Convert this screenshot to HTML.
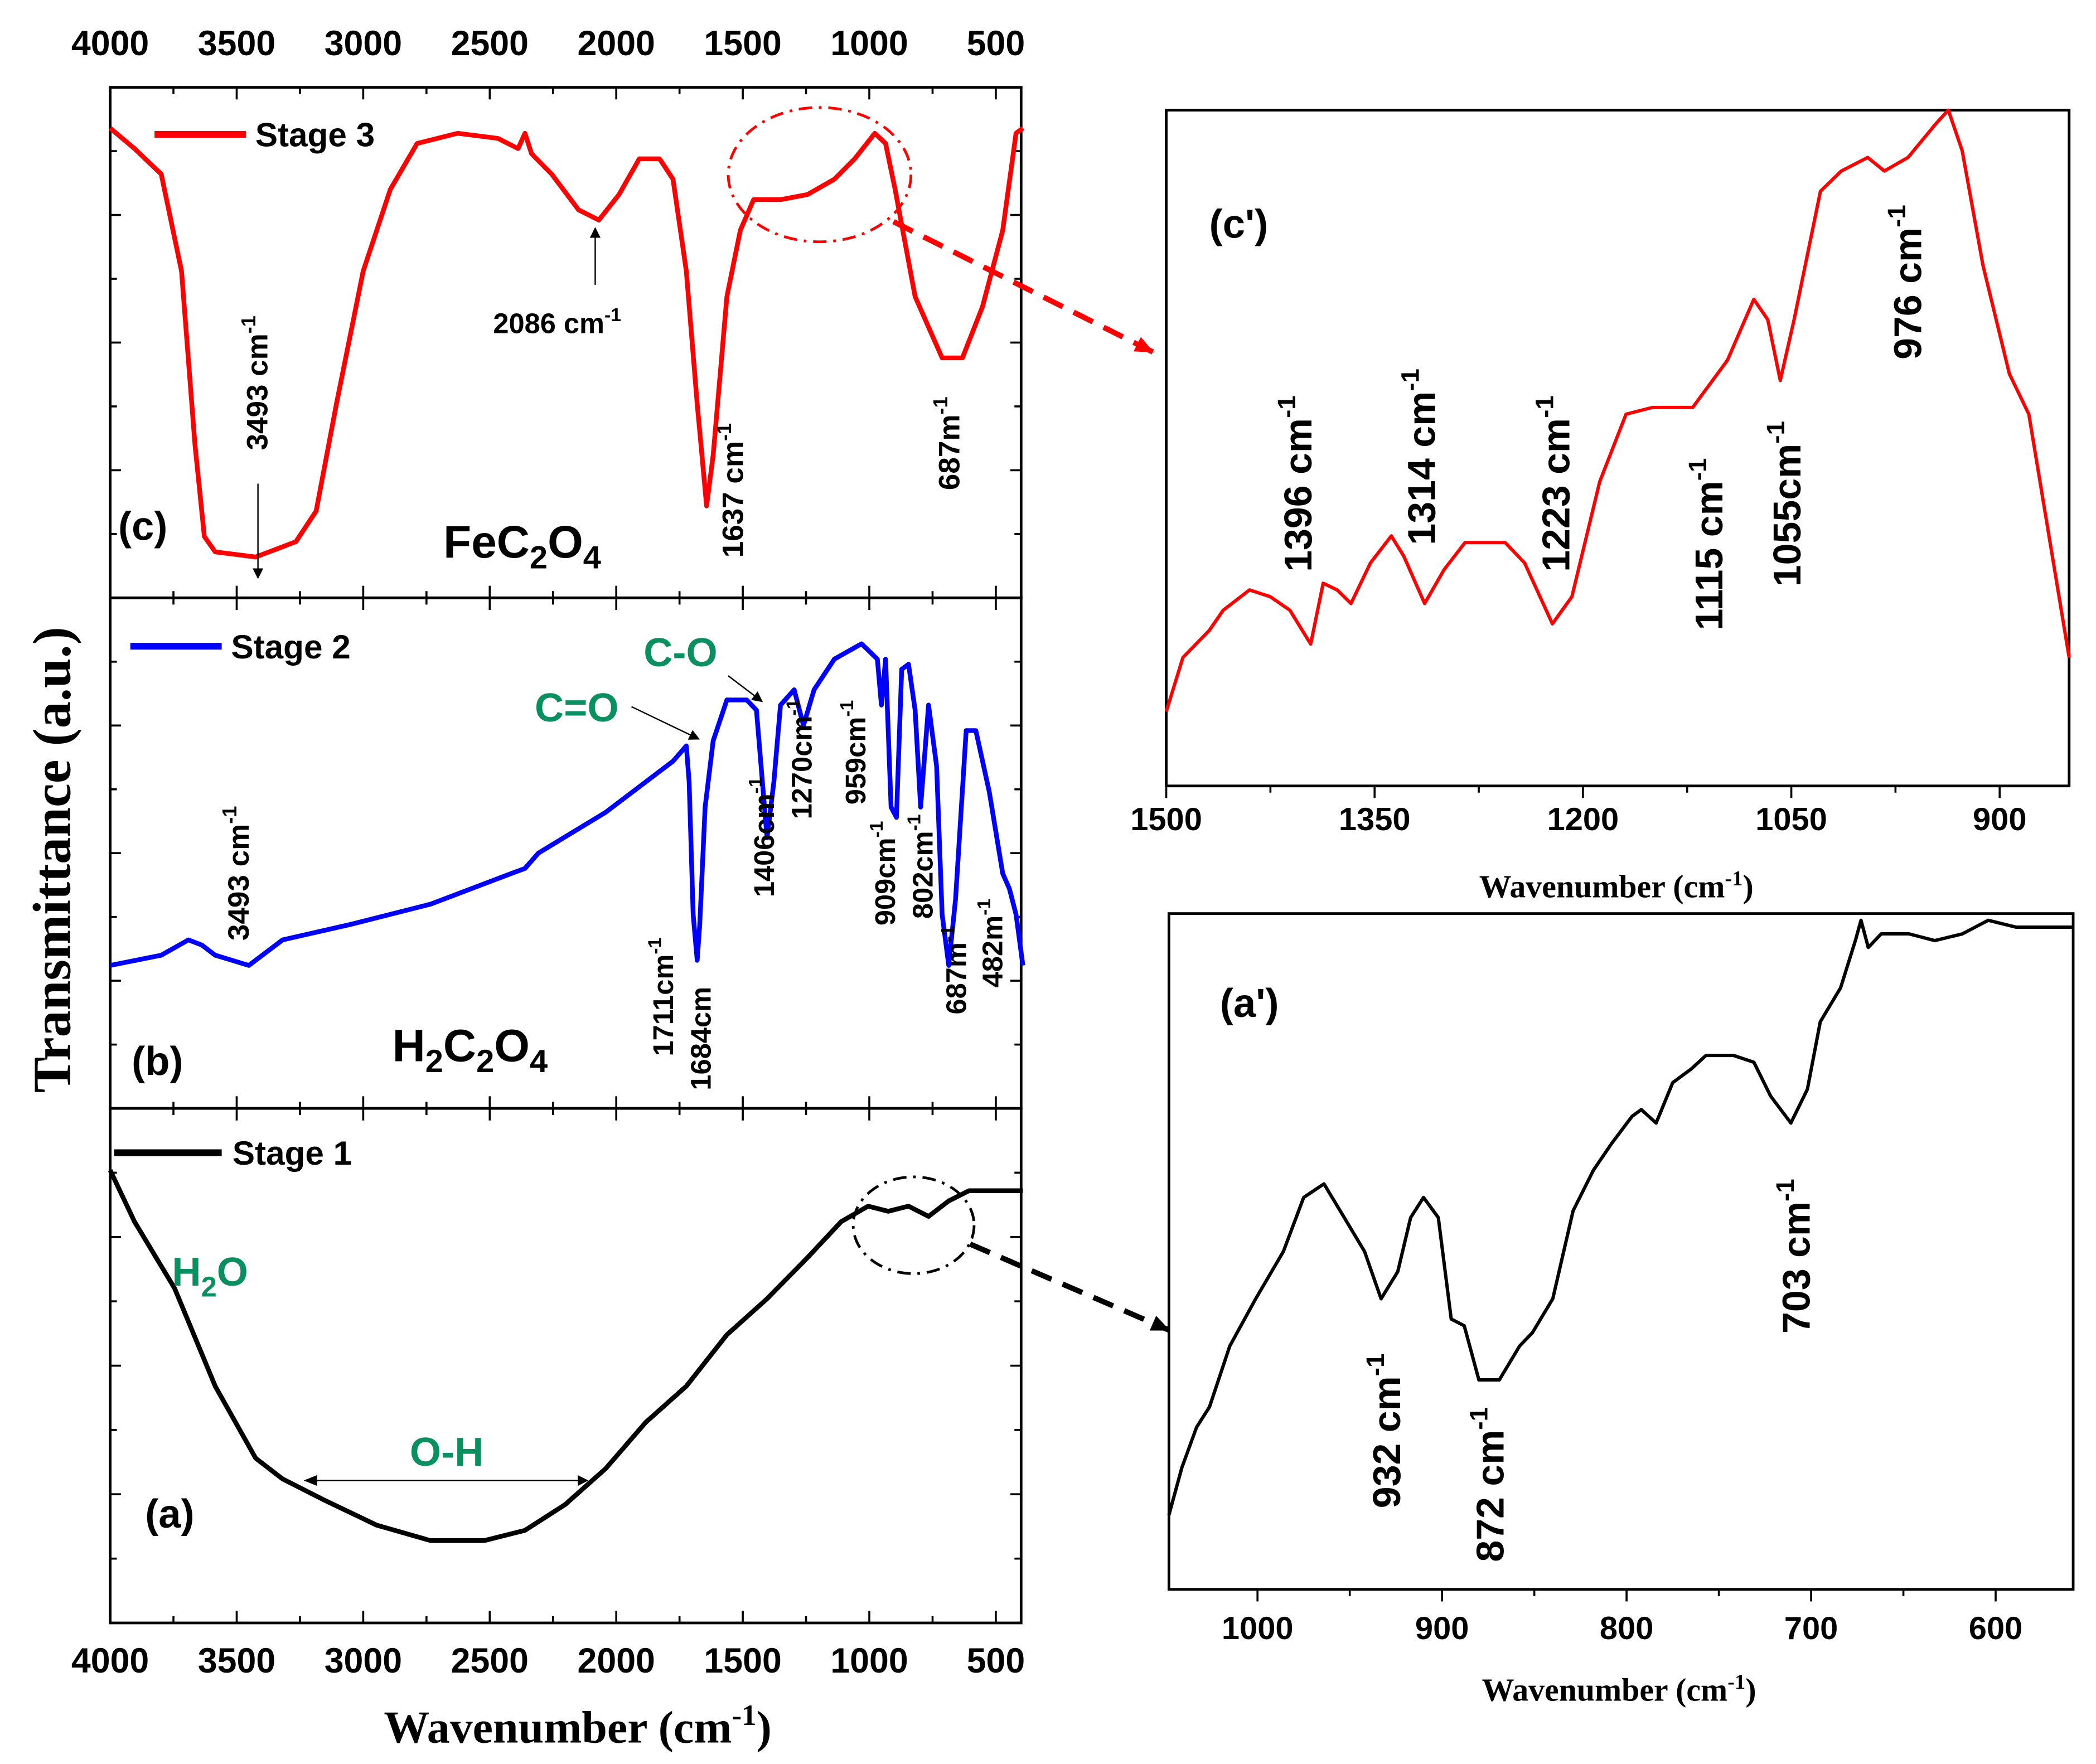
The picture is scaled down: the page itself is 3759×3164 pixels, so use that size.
<!DOCTYPE html>
<html><head><meta charset="utf-8"><style>
html,body{margin:0;padding:0;background:#fff;}
svg{display:block;}
.t{font-family:"Liberation Sans",sans-serif;font-weight:bold;fill:#000;}
.s{font-family:"Liberation Serif",serif;font-weight:bold;fill:#000;}
.g{fill:#0a9060;}
</style></head><body>
<svg id="fig" xmlns="http://www.w3.org/2000/svg" width="3759" height="3164" viewBox="0 0 1560 1313" preserveAspectRatio="none">
<defs>
<marker id="ah" markerWidth="8" markerHeight="8" refX="7" refY="4" orient="auto" markerUnits="userSpaceOnUse"><path d="M0,0 L8,4 L0,8 z" fill="#000"/></marker>
<marker id="ahr" markerWidth="14" markerHeight="12" refX="13" refY="6" orient="auto" markerUnits="userSpaceOnUse"><path d="M0,0 L14,6 L0,12 z" fill="#f00"/></marker>
<marker id="ahk" markerWidth="14" markerHeight="12" refX="13" refY="6" orient="auto" markerUnits="userSpaceOnUse"><path d="M0,0 L14,6 L0,12 z" fill="#000"/></marker>
</defs>
<g id="frames"></g>
<g id="curves"></g>
<g id="ann">
<text class="s" font-size="40" text-anchor="middle" transform="rotate(-90,52,640)" x="52" y="640">Transmittance (a.u.)</text>
<text class="s" font-size="34" text-anchor="middle" x="430" y="1297">Wavenumber (cm<tspan font-size="22" dy="-13">-1</tspan><tspan dy="13">)</tspan></text>
<text class="s" font-size="24" text-anchor="middle" x="1203" y="668">Wavenumber (cm<tspan font-size="16" dy="-9">-1</tspan><tspan dy="9">)</tspan></text>
<text class="s" font-size="24" text-anchor="middle" x="1205" y="1266">Wavenumber (cm<tspan font-size="16" dy="-9">-1</tspan><tspan dy="9">)</tspan></text>

<line x1="115" y1="100" x2="183" y2="100" stroke="#f00" stroke-width="5"/>
<text class="t" font-size="25" x="190" y="109">Stage 3</text>
<text class="t" font-size="30" x="88" y="402">(c)</text>
<text class="t" font-size="34" x="330" y="415">FeC<tspan font-size="24" dy="8">2</tspan><tspan dy="-8">O</tspan><tspan font-size="24" dy="8">4</tspan></text>
<text class="t" font-size="22" text-anchor="middle" transform="rotate(-90,199,285)" x="199" y="285">3493 cm<tspan font-size="15" dy="-9">-1</tspan></text>
<line x1="192" y1="360" x2="192" y2="430" stroke="#000" stroke-width="1" marker-end="url(#ah)"/>
<text class="t" font-size="21" x="367" y="248">2086 cm<tspan font-size="14" dy="-9">-1</tspan></text>
<line x1="443" y1="212" x2="443" y2="170" stroke="#000" stroke-width="1" marker-end="url(#ah)"/>
<text class="t" font-size="22" text-anchor="middle" transform="rotate(-90,553,365)" x="553" y="365">1637 cm<tspan font-size="15" dy="-9">-1</tspan></text>
<text class="t" font-size="22" text-anchor="middle" transform="rotate(-90,714,330)" x="714" y="330">687m<tspan font-size="15" dy="-9">-1</tspan></text>
<ellipse cx="610" cy="130" rx="68" ry="50" fill="none" stroke="#f00" stroke-width="2" stroke-dasharray="10,5,2,5"/>
<line x1="665" y1="165" x2="858" y2="262" stroke="#f00" stroke-width="4" stroke-dasharray="16,9" marker-end="url(#ahr)"/>

<line x1="97" y1="481" x2="165" y2="481" stroke="#00f" stroke-width="5"/>
<text class="t" font-size="25" x="172" y="490">Stage 2</text>
<text class="t" font-size="22" text-anchor="middle" transform="rotate(-90,185,650)" x="185" y="650">3493 cm<tspan font-size="15" dy="-9">-1</tspan></text>
<text class="t" font-size="30" x="98" y="800">(b)</text>
<text class="t" font-size="34" x="292" y="790">H<tspan font-size="24" dy="8">2</tspan><tspan dy="-8">C</tspan><tspan font-size="24" dy="8">2</tspan><tspan dy="-8">O</tspan><tspan font-size="24" dy="8">4</tspan></text>
<text class="t g" font-size="30" x="398" y="537">C=O</text>
<line x1="470" y1="526" x2="520" y2="550" stroke="#000" stroke-width="1" marker-end="url(#ah)"/>
<text class="t g" font-size="30" x="479" y="496">C-O</text>
<line x1="542" y1="503" x2="567" y2="522" stroke="#000" stroke-width="1" marker-end="url(#ah)"/>
<text class="t" font-size="21" text-anchor="middle" transform="rotate(-90,501,742)" x="501" y="742">1711cm<tspan font-size="14" dy="-9">-1</tspan></text>
<text class="t" font-size="21" text-anchor="middle" transform="rotate(-90,529,773)" x="529" y="773">1684cm</text>
<text class="t" font-size="21" text-anchor="middle" transform="rotate(-90,576,623)" x="576" y="623">1406cm<tspan font-size="14" dy="-9">-1</tspan></text>
<text class="t" font-size="21" text-anchor="middle" transform="rotate(-90,604,565)" x="604" y="565">1270cm<tspan font-size="14" dy="-9">-1</tspan></text>
<text class="t" font-size="21" text-anchor="middle" transform="rotate(-90,644,560)" x="644" y="560">959cm<tspan font-size="14" dy="-9">-1</tspan></text>
<text class="t" font-size="21" text-anchor="middle" transform="rotate(-90,666,650)" x="666" y="650">909cm<tspan font-size="14" dy="-9">-1</tspan></text>
<text class="t" font-size="21" text-anchor="middle" transform="rotate(-90,694,645)" x="694" y="645">802cm<tspan font-size="14" dy="-9">-1</tspan></text>
<text class="t" font-size="21" text-anchor="middle" transform="rotate(-90,719,722)" x="719" y="722">687m<tspan font-size="14" dy="-9">-1</tspan></text>
<text class="t" font-size="21" text-anchor="middle" transform="rotate(-90,746,702)" x="746" y="702">482m<tspan font-size="14" dy="-9">-1</tspan></text>

<line x1="85" y1="858" x2="165" y2="858" stroke="#000" stroke-width="5"/>
<text class="t" font-size="25" x="173" y="867">Stage 1</text>
<text class="t g" font-size="30" x="128" y="957">H<tspan font-size="21" dy="8">2</tspan><tspan dy="-8">O</tspan></text>
<text class="t g" font-size="30" x="305" y="1091">O-H</text>
<line x1="228" y1="1102" x2="437" y2="1102" stroke="#000" stroke-width="1" marker-end="url(#ah)"/>
<path d="M236,1098 L226,1102 L236,1106 z" fill="#000"/>
<text class="t" font-size="30" x="108" y="1137">(a)</text>
<ellipse cx="680" cy="912" rx="45" ry="36" fill="none" stroke="#000" stroke-width="2" stroke-dasharray="10,5,2,5"/>
<line x1="722" y1="926" x2="870" y2="990" stroke="#000" stroke-width="4" stroke-dasharray="16,9" marker-end="url(#ahk)"/>

<text class="t" font-size="30" x="900" y="177">(c')</text>
<text class="t" font-size="29" text-anchor="middle" transform="rotate(-90,976,360)" x="976" y="360">1396 cm<tspan font-size="19" dy="-12">-1</tspan></text>
<text class="t" font-size="29" text-anchor="middle" transform="rotate(-90,1068,340)" x="1068" y="340">1314 cm<tspan font-size="19" dy="-12">-1</tspan></text>
<text class="t" font-size="29" text-anchor="middle" transform="rotate(-90,1168,360)" x="1168" y="360">1223 cm<tspan font-size="19" dy="-12">-1</tspan></text>
<text class="t" font-size="29" text-anchor="middle" transform="rotate(-90,1282,405)" x="1282" y="405">1115 cm<tspan font-size="19" dy="-12">-1</tspan></text>
<text class="t" font-size="29" text-anchor="middle" transform="rotate(-90,1340,375)" x="1340" y="375">1055cm<tspan font-size="19" dy="-12">-1</tspan></text>
<text class="t" font-size="29" text-anchor="middle" transform="rotate(-90,1430,210)" x="1430" y="210">976 cm<tspan font-size="19" dy="-12">-1</tspan></text>

<text class="t" font-size="30" x="908" y="757">(a')</text>
<text class="t" font-size="29" text-anchor="middle" transform="rotate(-90,1042,1065)" x="1042" y="1065">932 cm<tspan font-size="19" dy="-12">-1</tspan></text>
<text class="t" font-size="29" text-anchor="middle" transform="rotate(-90,1119,1105)" x="1119" y="1105">872 cm<tspan font-size="19" dy="-12">-1</tspan></text>
<text class="t" font-size="29" text-anchor="middle" transform="rotate(-90,1347,935)" x="1347" y="935">703 cm<tspan font-size="19" dy="-12">-1</tspan></text>
</g>
</svg>
<script>
const stage3Wn=[4000,3904,3798,3718,3665,3628,3585,3425,3266,3186,3106,3000,2893,2787,2627,2468,2388,2361,2335,2255,2149,2069,1989,1909,1829,1776,1723,1680,1643,1617,1563,1510,1457,1351,1244,1138,1058,978,936,898,819,712,632,553,473,420,393];
const stage3T=[92,88,83,64,30,12,9,8,11,17,38,64,80,89,91,90,88,91,87,83,76,74,79,86,86,82,64,38,18,28,59,72,78,78,79,82,86,91,89,80,59,47,47,57,72,91,92];
const stage2Wn=[4000,3798,3691,3638,3585,3452,3319,3053,2734,2415,2361,2308,2042,1776,1723,1712,1696,1680,1670,1649,1617,1563,1484,1446,1404,1377,1351,1297,1260,1218,1138,1031,968,952,936,914,893,872,845,819,797,766,734,712,686,659,617,579,526,473,446,420,393];
const stage2T=[28,30,33,32,30,28,33,36,40,46,47,50,58,68,71,64,38,29,36,59,72,80,80,78,53,64,79,82,75,82,88,91,88,79,88,59,57,86,87,78,59,79,67,38,28,41,74,74,62,46,43,38,28];
const stage1Wn=[4000,3904,3745,3585,3425,3319,3159,2947,2734,2521,2361,2202,2042,1883,1723,1563,1404,1244,1111,1005,925,845,766,686,606,393];
const stage1T=[88,78,65,46,32,28,24,19,16,16,18,23,30,39,46,56,63,71,78,81,80,81,79,82,84,84];
const cpWn=[1500,1488,1469,1459,1440,1425,1411,1396,1387,1377,1367,1353,1338,1329,1314,1300,1285,1256,1242,1222,1208,1188,1169,1150,1121,1096,1077,1067,1058,1048,1029,1014,995,983,966,946,937,927,912,893,879,850];
const cpT=[11,19,23,26,29,28,26,21,30,29,27,33,37,34,27,32,36,36,33,24,28,45,55,56,56,63,72,69,60,69,88,91,93,91,93,98,100,94,77,61,55,19];
const apWn=[1048,1041,1033,1026,1015,1001,986,975,964,953,942,933,924,917,910,902,895,888,880,869,858,851,840,829,818,808,797,792,784,775,765,757,742,731,722,711,702,695,684,676,673,669,662,647,633,618,604,589,574,558];
const apT=[11,18,24,27,36,43,50,58,60,55,50,43,47,55,58,55,40,39,31,31,36,38,43,56,62,66,70,71,69,75,77,79,79,78,73,69,74,84,89,96,99,95,97,97,96,97,99,98,98,98];
const mainTicks=[4000,3500,3000,2500,2000,1500,1000,500];
const cpTicks=[1500,1350,1200,1050,900];
const apTicks=[1000,900,800,700,600];

const NS="http://www.w3.org/2000/svg";
const frames=document.getElementById('frames'), curves=document.getElementById('curves');
function mk(tag,attrs,parent){const e=document.createElementNS(NS,tag);for(const k in attrs)e.setAttribute(k,attrs[k]);parent.appendChild(e);return e;}
function scaleX(w0,w1,x0,x1){return w=>x0+(w0-w)/(w0-w1)*(x1-x0);}
function scaleY(y0,y1){return v=>y1-v/100*(y1-y0);}

const mx=scaleX(4000,400,82,760);
const panels=[[65,445,stage3Wn,stage3T,'#f00','curve-stage3'],[445,825,stage2Wn,stage2T,'#00f','curve-stage2'],[825,1208,stage1Wn,stage1T,'#000','curve-stage1']];
panels.forEach(p=>{
  const r=mk('rect',{x:82,y:p[0],width:678,height:p[1]-p[0],fill:'none',stroke:'#000','stroke-width':2},frames);
  
  
  for(let w=4000;w>=500;w-=250){const X=mx(w);const L=(w%500===0)?9:5;
    mk('line',{x1:X,y1:p[0],x2:X,y2:p[0]+L,stroke:'#000','stroke-width':1.5},frames);
    mk('line',{x1:X,y1:p[1],x2:X,y2:p[1]-L,stroke:'#000','stroke-width':1.5},frames);}
  const h=p[1]-p[0];
  for(let i=1;i<8;i++){const Y=p[0]+i*h/8;const L=(i%2===0)?8:5;
    mk('line',{x1:82,y1:Y,x2:82+L,y2:Y,stroke:'#000','stroke-width':1.5},frames);
    mk('line',{x1:760,y1:Y,x2:760-L,y2:Y,stroke:'#000','stroke-width':1.5},frames);}
  const sy=scaleY(p[0],p[1]);
  const d=p[2].map((w,i)=>(i?'L':'M')+mx(w).toFixed(1)+','+sy(p[3][i]).toFixed(1)).join(' ');
  const path=mk('path',{d:d,fill:'none',stroke:p[4],'stroke-width':3.5,'stroke-linejoin':'round'},curves);
  
  
});
mainTicks.forEach(w=>{
  const t1=mk('text',{x:mx(w),y:41,'font-size':26,'text-anchor':'middle',class:'t'},frames);t1.textContent=w;
  
  
  const t2=mk('text',{x:mx(w),y:1245,'font-size':26,'text-anchor':'middle',class:'t'},frames);t2.textContent=w;
  
  
});

function inset(x0,x1,y0,y1,w0,w1,ticks,minor,wn,T,color,name,labY){
  const r=mk('rect',{x:x0,y:y0,width:x1-x0,height:y1-y0,fill:'none',stroke:'#000','stroke-width':2},frames);
  
  
  const sx=scaleX(w0,w1,x0,x1), sy=scaleY(y0,y1);
  ticks.forEach(w=>{const X=sx(w);
    mk('line',{x1:X,y1:y1,x2:X,y2:y1+9,stroke:'#000','stroke-width':1.5},frames);
    const t=mk('text',{x:X,y:labY,'font-size':24,'text-anchor':'middle',class:'t'},frames);t.textContent=w;
    
    
    const m=w-minor; if(sx(m)<x1) mk('line',{x1:sx(m),y1:y1,x2:sx(m),y2:y1+5,stroke:'#000','stroke-width':1.5},frames);
  });
  const d=wn.map((w,i)=>(i?'L':'M')+sx(w).toFixed(1)+','+sy(T[i]).toFixed(1)).join(' ');
  const path=mk('path',{d:d,fill:'none',stroke:color,'stroke-width':2.5,'stroke-linejoin':'round'},curves);
  
  
}
inset(868,1540,82,585,1500,850,cpTicks,75,cpWn,cpT,'#f00','curve-c-prime',618);
inset(870,1543,680,1183,1048,558,apTicks,50,apWn,apT,'#000','curve-a-prime',1220);
</script>
</body></html>
